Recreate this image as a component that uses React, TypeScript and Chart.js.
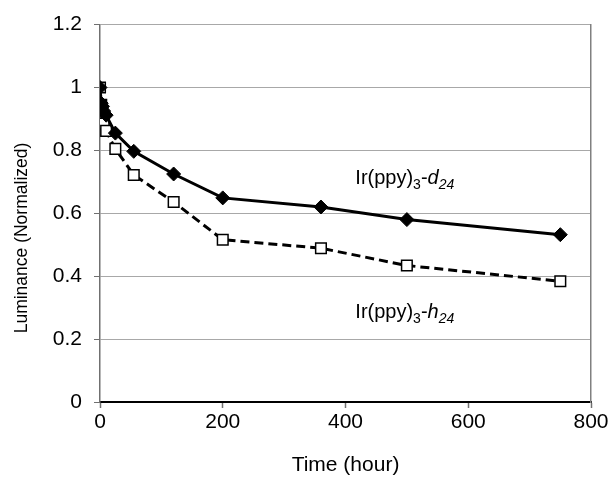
import React, { useEffect, useRef } from "react";
import { Chart, registerables } from "chart.js";

Chart.register(...registerables);

// ---- data ----
const timeHours = [0, 2, 4, 6, 10, 25, 55, 120, 200, 360, 500, 750];
const luminanceD24 = [1.0, 0.95, 0.94, 0.925, 0.912, 0.855, 0.797, 0.725, 0.649, 0.62, 0.58, 0.532];
const luminanceH24 = [1.0, 0.945, 0.92, 0.885, 0.862, 0.805, 0.722, 0.636, 0.516, 0.489, 0.434, 0.384];
const xTickValues = [0, 200, 400, 600, 800];
const yTickValues = [0, 0.2, 0.4, 0.6, 0.8, 1.0, 1.2];
const xTitle = "Time (hour)";
const yTitle = "Luminance (Normalized)";
const labelD24 = { main: "Ir(ppy)", sub1: "3", dash: "-", ital: "d", sub2: "24" };
const labelH24 = { main: "Ir(ppy)", sub1: "3", dash: "-", ital: "h", sub2: "24" };

const FONT = '"Liberation Sans", Arial, Helvetica, sans-serif';

const textPlugin = {
  id: "textPlugin",
  afterDraw(chart: any) {
    const ctx = chart.ctx as CanvasRenderingContext2D;
    const xs = chart.scales.x;
    const ys = chart.scales.y;
    const area = chart.chartArea;
    ctx.save();
    ctx.fillStyle = "#000";
    ctx.textBaseline = "alphabetic";
    ctx.textAlign = "left";

    const drawLabel = (lab: any, px: number, py: number) => {
      let cx = px;
      const seg = (t: string, font: string, dy: number) => {
        ctx.font = font;
        ctx.fillText(t, cx, py + dy);
        cx += ctx.measureText(t).width;
      };
      seg(lab.main, `20px ${FONT}`, 0);
      seg(lab.sub1, `14px ${FONT}`, 5);
      seg(lab.dash, `20px ${FONT}`, 0);
      seg(lab.ital, `italic 20px ${FONT}`, 0);
      seg(lab.sub2, `italic 14px ${FONT}`, 5);
    };
    drawLabel(labelD24, xs.getPixelForValue(416), ys.getPixelForValue(0.693));
    drawLabel(labelH24, xs.getPixelForValue(416), ys.getPixelForValue(0.268));

    // x title
    ctx.font = `21px ${FONT}`;
    ctx.textAlign = "center";
    ctx.textBaseline = "middle";
    ctx.fillText(xTitle, (area.left + area.right) / 2, area.bottom + 63);

    // y title
    ctx.save();
    ctx.translate(22, 238);
    ctx.rotate(-Math.PI / 2);
    ctx.font = `17.5px ${FONT}`;
    ctx.fillText(yTitle, 0, 0);
    ctx.restore();

    ctx.restore();
  },
};

export default function App() {
  const ref = useRef<HTMLCanvasElement | null>(null);

  useEffect(() => {
    if (!ref.current) return;
    const chart = new Chart(ref.current, {
      type: "scatter",
      data: {
        datasets: [
          {
            label: "Ir(ppy)3-d24",
            data: timeHours.map((t, i) => ({ x: t, y: luminanceD24[i] })),
            showLine: true,
            borderColor: "#000",
            borderWidth: 3,
            backgroundColor: "#000",
            pointStyle: "rectRot",
            pointRadius: 7,
            pointBorderWidth: 1,
            pointBorderColor: "#000",
            pointBackgroundColor: "#000",
            tension: 0,
          },
          {
            label: "Ir(ppy)3-h24",
            data: timeHours.map((t, i) => ({ x: t, y: luminanceH24[i] })),
            showLine: true,
            borderColor: "#000",
            borderWidth: 3,
            borderDash: [9, 5],
            backgroundColor: "#fff",
            pointStyle: "rect",
            pointRadius: 7.5,
            pointBorderWidth: 1.5,
            pointBorderColor: "#000",
            pointBackgroundColor: "#fff",
            tension: 0,
          },
        ],
      },
      options: {
        animation: false,
        responsive: false,
        devicePixelRatio: 1,
        layout: { padding: { left: 0, right: 19, top: 21, bottom: 0 } },
        plugins: {
          legend: { display: false },
          tooltip: { enabled: false },
        },
        scales: {
          x: {
            type: "linear",
            position: "bottom",
            min: 0,
            max: 800,
            afterBuildTicks: (axis: any) => {
              axis.ticks = xTickValues.map((v) => ({ value: v }));
            },
            afterFit: (axis: any) => {
              axis.height = 81;
              axis.paddingRight = 0;
              axis.paddingLeft = 0;
            },
            ticks: {
              font: { family: FONT, size: 21 },
              color: "#000",
              padding: 2,
              maxRotation: 0,
            },
            grid: {
              drawOnChartArea: false,
              drawTicks: true,
              tickLength: 6,
              tickColor: "#707070",
              tickWidth: 1.5,
            },
            border: { display: true, color: "#000", width: 2 },
          },
          y: {
            type: "linear",
            position: "left",
            min: 0,
            max: 1.2,
            afterBuildTicks: (axis: any) => {
              axis.ticks = yTickValues.map((v) => ({ value: v }));
            },
            afterFit: (axis: any) => {
              axis.width = 100;
            },
            ticks: {
              font: { family: FONT, size: 21 },
              color: "#000",
              padding: 12,
              callback: (v: any) => String(Math.round(Number(v) * 10) / 10),
            },
            grid: {
              color: "#a8a8a8",
              lineWidth: 1,
              tickLength: 6,
              tickColor: "#707070",
            },
            border: { display: true, color: "#707070", width: 1.5 },
          },
          yRight: {
            type: "linear",
            position: "right",
            min: 0,
            max: 1.2,
            afterFit: (axis: any) => {
              axis.width = 0;
            },
            ticks: { display: false },
            grid: { drawOnChartArea: false, drawTicks: false },
            border: { display: true, color: "#808080", width: 1.5 },
          },
        },
      },
      plugins: [textPlugin],
    });
    return () => chart.destroy();
  }, []);

  return (
    <div style={{ position: "fixed", left: 0, top: 0, width: 610, height: 483, background: "#fff" }}>
      <canvas ref={ref} width={610} height={483} style={{ display: "block", width: 610, height: 483 }} />
    </div>
  );
}
